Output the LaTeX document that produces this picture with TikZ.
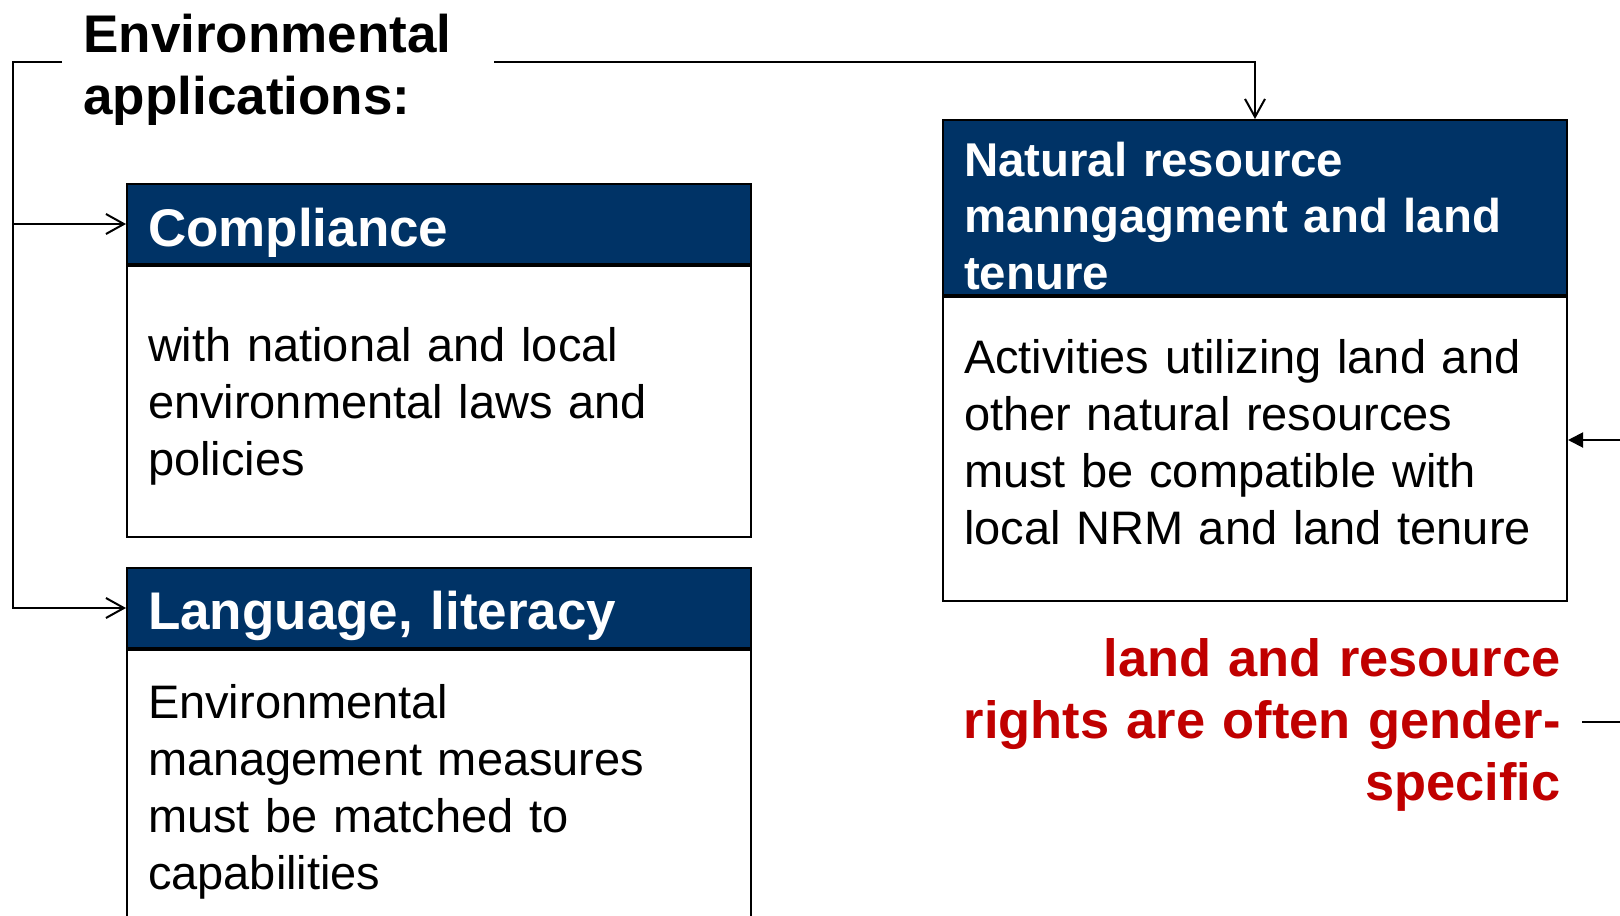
\documentclass[tikz,border=0pt]{standalone}
\usepackage{fontspec}
\setmainfont{Liberation Sans}
\usetikzlibrary{arrows.meta}
\definecolor{hdrblue}{RGB}{0,51,102}
\definecolor{alertred}{RGB}{192,0,0}
\begin{document}
\begin{tikzpicture}[x=0.5pt,y=-0.5pt,
  big/.style={font=\fontsize{26.5}{31}\selectfont\bfseries},
  hdr/.style={draw=black, line width=1pt, fill=hdrblue, text=white, inner xsep=10.5pt, inner ysep=0pt, text width=291pt, align=left, anchor=north west},
  bodybox/.style={draw=black, line width=1pt, fill=white, inner xsep=10.5pt, inner ysep=0pt, text width=291pt, align=left, anchor=north west, font=\fontsize{23.5}{28.65}\selectfont},
  conn/.style={line width=1pt, draw=black},
  openarrow/.style={-{Straight Barb[length=9pt,width=10pt,line width=1pt]}},
  fillarrow/.style={-{Triangle[length=7.5pt,width=7.5pt]}}
]
\useasboundingbox (0,0) rectangle (1620,915);

% title
\node[big, anchor=base west, inner sep=0pt, text width=200pt, align=left] (title) at (83,53) {Environmental\\applications:};

% Compliance
\node[hdr, big, text height=31pt, text depth=9pt] (comphead) at (126,183) {Compliance};
\node[bodybox, text height=47.5pt, text depth=88pt] (compbody) at (comphead.south west) {with national and local\\environmental laws and\\policies};

% Language
\node[hdr, big, text height=30.5pt, text depth=9.5pt] (langhead) at (126,567) {Language, literacy};
\node[bodybox, text height=34pt, text depth=110pt] (langbody) at (langhead.south west) {Environmental\\management measures\\must be matched to\\capabilities};

% NRM
\node[hdr, font=\fontsize{23.7}{28.25}\selectfont\bfseries, text height=28pt, text depth=59.5pt] (nrmhead) at (942,119) {Natural resource\\manngagment and land\\tenure};
\node[bodybox, text height=38pt, text depth=114pt] (nrmbody) at (nrmhead.south west) {Activities utilizing land and\\other natural resources\\must be compatible with\\local NRM and land tenure};

% red note
\node[font=\fontsize{26.2}{31}\selectfont\bfseries, text=alertred, anchor=base east, inner xsep=10.5pt, inner ysep=0pt, text width=360pt, align=right] (note) at (1582,676) {land and resource\\rights are often gender-\\specific};

% connector ends
\coordinate (tl) at (62,62);
\coordinate (tr) at (494,62);
\coordinate (trunk) at (13,62);
\coordinate (rin) at (1620,440);
\coordinate (rout) at (1620,722);

\draw[conn, openarrow] (tl) -- (trunk) |- (langhead.west);
\draw[conn, openarrow] (trunk |- comphead.west) -- (comphead.west);
\draw[conn, openarrow] (tr) -| (nrmhead.north);
\draw[conn, fillarrow] (rin) -- (rin -| nrmbody.east);
\draw[conn] (rout) -- (rout -| note.east);
\end{tikzpicture}
\end{document}
